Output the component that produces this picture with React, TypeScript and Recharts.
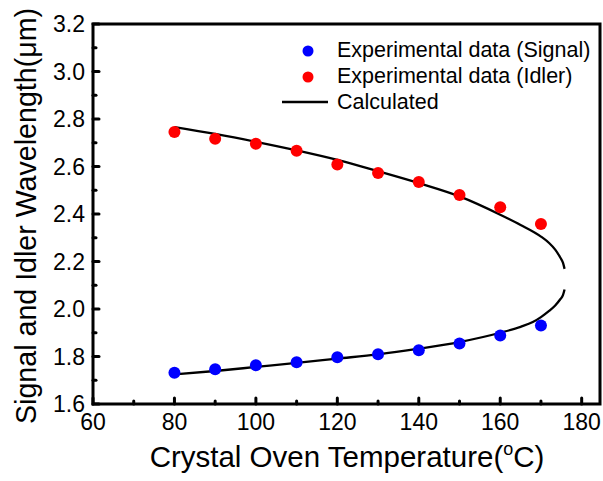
import React from 'react';
import {
  ComposedChart,
  XAxis,
  YAxis,
  Line,
  Scatter,
  ReferenceArea,
  Legend,
} from 'recharts';

const FONT = '"Liberation Sans", Arial, Helvetica, sans-serif';

// Measured tuning wavelengths vs. oven temperature (°C, µm)
const temps = [80, 90, 100, 110, 120, 130, 140, 150, 160, 170];
const signalWl = [1.732, 1.746, 1.763, 1.776, 1.797, 1.809, 1.826, 1.855, 1.888, 1.931];
const idlerWl = [2.745, 2.717, 2.696, 2.666, 2.608, 2.573, 2.535, 2.48, 2.428, 2.358];

// Calculated phase-matching curve, idler branch (upper) and signal branch (lower)
const upperT = [80, 90, 100, 110, 120, 130, 140, 150, 160, 165, 170, 172, 173.5, 174.7, 175.4, 175.8];
const upperWl = [2.766, 2.737, 2.704, 2.668, 2.628, 2.58, 2.53, 2.474, 2.397, 2.354, 2.305, 2.278, 2.25, 2.218, 2.195, 2.169];
const lowerT = [80, 90, 100, 110, 120, 130, 140, 150, 160, 165, 168, 170, 172, 173.5, 174.7, 175.4, 175.8];
const lowerWl = [1.725, 1.739, 1.756, 1.773, 1.791, 1.809, 1.833, 1.861, 1.9, 1.925, 1.945, 1.966, 1.992, 2.015, 2.04, 2.058, 2.082];

// Axis ticks (minor every 10 °C / 0.1 µm)
const xTicks = [60, 70, 80, 90, 100, 110, 120, 130, 140, 150, 160, 170, 180];
const yTicks = [1.6, 1.7, 1.8, 1.9, 2.0, 2.1, 2.2, 2.3, 2.4, 2.5, 2.6, 2.7, 2.8, 2.9, 3.0, 3.1, 3.2];

const legendItems = [
  { name: 'Experimental data (Signal)', color: '#0000ff', kind: 'dot' },
  { name: 'Experimental data (Idler)', color: '#ff0000', kind: 'dot' },
  { name: 'Calculated', color: '#000000', kind: 'line' },
];

const toPoints = (xs: number[], ys: number[]) => xs.map((T, i) => ({ T, v: ys[i] }));

const signalData = toPoints(temps, signalWl);
const idlerData = toPoints(temps, idlerWl);
const upperData = toPoints(upperT, upperWl);
const lowerData = toPoints(lowerT, lowerWl);

const XTick = (props: any) => {
  const { x, y, payload } = props;
  const major = payload.value % 20 === 0;
  return (
    <g>
      <line
        x1={x}
        x2={x}
        y1={y}
        y2={y - (major ? 6 : 3)}
        stroke="#000"
        strokeWidth={3}
        strokeLinecap="round"
      />
      {major && (
        <text x={x} y={y + 26} textAnchor="middle" fontFamily={FONT} fontSize={23} fill="#000">
          {payload.value}
        </text>
      )}
    </g>
  );
};

const YTick = (props: any) => {
  const { x, y, payload } = props;
  const major = Math.round(payload.value * 10) % 2 === 0;
  return (
    <g>
      <line
        x1={x}
        x2={x + (major ? 6 : 3)}
        y1={y}
        y2={y}
        stroke="#000"
        strokeWidth={3}
        strokeLinecap="round"
      />
      {major && (
        <text x={x - 8} y={y + 8} textAnchor="end" fontFamily={FONT} fontSize={23} fill="#000">
          {payload.value.toFixed(1)}
        </text>
      )}
    </g>
  );
};

const Dot = (color: string) => (props: any) => (
  <circle cx={props.cx} cy={props.cy} r={6} fill={color} />
);

const LegendBox = () => (
  <svg width={603} height={120} style={{ display: 'block' }}>
    {legendItems.map((item, i) => {
      const base = 57 + i * 26;
      return (
        <g key={item.name}>
          {item.kind === 'dot' ? (
            <circle cx={308} cy={base - 6} r={5.5} fill={item.color} />
          ) : (
            <line x1={282} x2={328} y1={base - 7} y2={base - 7} stroke={item.color} strokeWidth={2.3} />
          )}
          <text x={337} y={base} fontFamily={FONT} fontSize={21.5} fill="#000">
            {item.name}
          </text>
        </g>
      );
    })}
  </svg>
);

export default function App() {
  return (
    <div style={{ position: 'absolute', left: 0, top: 0, width: 603, height: 481, background: '#fff' }}>
      <ComposedChart width={603} height={481} margin={{ top: 24, right: 3, bottom: 0, left: 0 }}>
        <XAxis
          type="number"
          dataKey="T"
          domain={[60, 184.5]}
          allowDataOverflow
          ticks={xTicks}
          interval={0}
          tick={<XTick />}
          tickLine={false}
          axisLine={false}
          tickSize={0}
          tickMargin={0}
          height={77}
          label={{
            content: () => (
              <text x={347} y={467} textAnchor="middle" fontFamily={FONT} fontSize={29.5} fill="#000">
                Crystal Oven Temperature(
                <tspan fontSize={18} dy={-12}>o</tspan>
                <tspan dy={12}>C)</tspan>
              </text>
            ),
          }}
        />
        <YAxis
          type="number"
          domain={[1.6, 3.2]}
          allowDataOverflow
          ticks={yTicks}
          interval={0}
          tick={<YTick />}
          tickLine={false}
          axisLine={false}
          tickSize={0}
          tickMargin={0}
          width={93}
          label={{
            content: () => (
              <text
                x={36}
                y={216}
                textAnchor="middle"
                transform="rotate(-90 36 216)"
                fontFamily={FONT}
                fontSize={28.6}
                fill="#000"
              >
                Signal and Idler Wavelength(μm)
              </text>
            ),
          }}
        />
        <ReferenceArea
          x1={60}
          x2={184.5}
          y1={1.6}
          y2={3.2}
          fill="none"
          stroke="#000"
          strokeWidth={3}
          ifOverflow="visible"
        />
        <Scatter
          name="Experimental data (Signal)"
          data={signalData}
          dataKey="v"
          fill="#0000ff"
          shape={Dot('#0000ff')}
          isAnimationActive={false}
        />
        <Scatter
          name="Experimental data (Idler)"
          data={idlerData}
          dataKey="v"
          fill="#ff0000"
          shape={Dot('#ff0000')}
          isAnimationActive={false}
        />
        <Line
          name="Calculated"
          data={upperData}
          dataKey="v"
          type="monotone"
          stroke="#000"
          strokeWidth={2.3}
          dot={false}
          activeDot={false}
          isAnimationActive={false}
        />
        <Line
          name="Calculated (signal branch)"
          data={lowerData}
          dataKey="v"
          type="monotone"
          stroke="#000"
          strokeWidth={2.3}
          dot={false}
          activeDot={false}
          isAnimationActive={false}
          legendType="none"
        />
        <Legend
          layout="horizontal"
          verticalAlign="middle"
          align="center"
          wrapperStyle={{ position: 'absolute', left: 0, top: 0, width: 603, height: 120 }}
          content={() => <LegendBox />}
        />
      </ComposedChart>
    </div>
  );
}
